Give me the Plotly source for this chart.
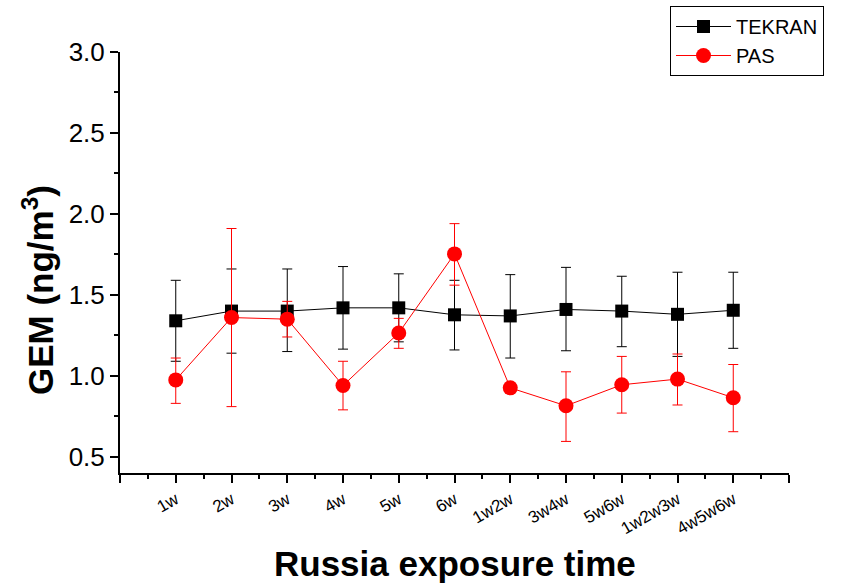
import plotly.graph_objects as go

categories = ["1w", "2w", "3w", "4w", "5w", "6w", "1w2w", "3w4w", "5w6w", "1w2w3w", "4w5w6w"]
positions = list(range(1, 12))

tekran = [1.34, 1.40, 1.40, 1.42, 1.42, 1.377, 1.37, 1.41, 1.40, 1.38, 1.405]
tekran_hi = [1.59, 1.66, 1.66, 1.675, 1.63, 1.59, 1.625, 1.67, 1.615, 1.64, 1.64]
tekran_lo = [1.09, 1.14, 1.15, 1.165, 1.21, 1.16, 1.11, 1.155, 1.18, 1.12, 1.17]

pas = [0.975, 1.36, 1.35, 0.94, 1.265, 1.753, 0.926, 0.815, 0.945, 0.98, 0.865]
pas_hi = [1.11, 1.91, 1.46, 1.09, 1.355, 1.94, 0.926, 1.025, 1.12, 1.135, 1.07]
pas_lo = [0.83, 0.81, 1.24, 0.79, 1.17, 1.56, 0.926, 0.595, 0.77, 0.82, 0.655]

y_ticks = [0.5, 1.0, 1.5, 2.0, 2.5, 3.0]

def plus(v, hi):
    return [h - x for x, h in zip(v, hi)]

def minus(v, lo):
    return [x - l for x, l in zip(v, lo)]

fig = go.Figure()
fig.add_trace(go.Scatter(
    x=positions, y=tekran, name="TEKRAN", mode="lines+markers",
    line=dict(color="black", width=1),
    marker=dict(symbol="square", size=13, color="black"),
    error_y=dict(type="data", symmetric=False, array=plus(tekran, tekran_hi),
                 arrayminus=minus(tekran, tekran_lo), color="black", thickness=1, width=5),
))
fig.add_trace(go.Scatter(
    x=positions, y=pas, name="PAS", mode="lines+markers",
    line=dict(color="red", width=1),
    marker=dict(symbol="circle", size=15, color="red"),
    error_y=dict(type="data", symmetric=False, array=plus(pas, pas_hi),
                 arrayminus=minus(pas, pas_lo), color="red", thickness=1, width=5),
))

fig.update_layout(
    width=845, height=583,
    margin=dict(l=120, r=56, t=52, b=110, autoexpand=False),
    paper_bgcolor="white", plot_bgcolor="white",
    font=dict(family="Liberation Sans, Arial, sans-serif", color="black"),
    showlegend=True,
    legend=dict(x=(670 - 120) / 669, xanchor="left", y=(473 - 6) / 421, yanchor="top",
                bordercolor="black", borderwidth=1, bgcolor="white",
                font=dict(size=20), tracegroupgap=0, itemwidth=55),
    xaxis=dict(
        range=[0, 12], tickmode="array", tickvals=list(range(0, 13)),
        ticktext=[""] + categories + [""], tickangle=-30,
        tickfont=dict(size=17), showgrid=False, zeroline=False,
        showline=True, linecolor="black", linewidth=2,
        ticks="outside", ticklen=8, tickwidth=2, tickcolor="black",
        minor=dict(tickvals=[i + 0.5 for i in range(12)], ticks="outside",
                   ticklen=4, tickwidth=2, tickcolor="black", showgrid=False),
    ),
    yaxis=dict(
        range=[0.4, 3.0], tickmode="array", tickvals=y_ticks,
        ticktext=[f"{v:.1f}" for v in y_ticks],
        tickfont=dict(size=26), showgrid=False, zeroline=False,
        showline=True, linecolor="black", linewidth=2,
        ticks="outside", ticklen=8, tickwidth=2, tickcolor="black",
        minor=dict(tickvals=[0.75, 1.25, 1.75, 2.25, 2.75], ticks="outside",
                   ticklen=4, tickwidth=2, tickcolor="black", showgrid=False),
    ),
    annotations=[
        dict(text="<b>Russia exposure time</b>", x=0.5, y=(473 - 563) / 421, xref="paper", yref="paper",
             xanchor="center", yanchor="middle", showarrow=False, font=dict(size=35)),
        dict(text="<b>GEM (ng/m<sup>3</sup>)</b>", x=(38 - 120) / 669, y=(473 - 290) / 421,
             xref="paper", yref="paper",
             xanchor="center", yanchor="middle", showarrow=False, textangle=-90,
             font=dict(size=35)),
    ],
)

fig.write_html("out.html")
